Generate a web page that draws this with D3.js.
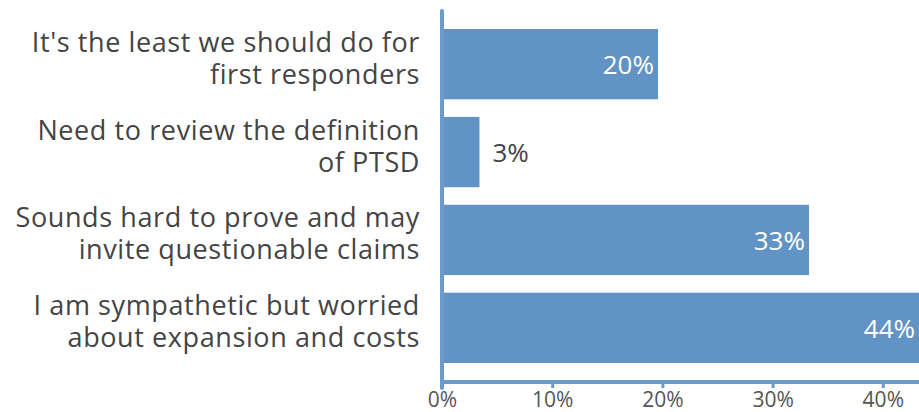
<!DOCTYPE html>
<html><head><meta charset="utf-8">
<script src="https://cdn.jsdelivr.net/npm/d3@7"></script>
<style>body{margin:0;background:#fff;} svg{display:block;}</style>
</head><body>
<svg id="c" width="919" height="412"></svg>
<script>
const categories = [
  ["It's the least we should do for", "first responders"],
  ["Need to review the definition", "of PTSD"],
  ["Sounds hard to prove and may", "invite questionable claims"],
  ["I am sympathetic but worried", "about expansion and costs"]
];
const values = [19.6, 3.4, 33.3, 44.4];
const valueLabels = ["20%", "3%", "33%", "44%"];
const ticks = [0, 10, 20, 30, 40];

const svg = d3.select("#c");
const font = "'Open Sans', sans-serif";
const x = d3.scaleLinear().domain([0, 10]).range([442, 552.2]);
const y = d3.scaleBand().domain(d3.range(categories.length)).range([20.2, 371.8]).paddingInner(0.2).paddingOuter(0.1);
const barColor = "#6193c5";

svg.selectAll("rect.bar").data(values).join("rect")
  .attr("class","bar")
  .attr("x", x(0)).attr("y", (d,i)=>y(i))
  .attr("width", d=>x(d)-x(0)).attr("height", y.bandwidth())
  .attr("fill", barColor);

// x axis
const xAxis = d3.axisBottom(x).tickValues(ticks).tickFormat(d=>d+"%").tickSize(6).tickSizeOuter(0);
const gx = svg.append("g").attr("transform","translate(0,382)").call(xAxis);
gx.select(".domain").attr("d", `M${x(0)},0H919`).attr("stroke", "#6a9bcc").attr("stroke-width", 4);
gx.selectAll(".tick line").attr("stroke", "#6a9bcc").attr("stroke-width", 3);
gx.selectAll(".tick text").attr("font-family", font).attr("font-size", 21).attr("fill", "#555")
  .attr("y", 25).attr("dy", null);

// y axis line
svg.append("line").attr("x1", x(0)).attr("x2", x(0)).attr("y1", 11).attr("y2", 388)
  .attr("stroke", "#6a9bcc").attr("stroke-width", 4).attr("stroke-linecap","round");

// category labels
const cl = svg.selectAll("text.cat").data(categories).join("text")
  .attr("class","cat").attr("text-anchor","end")
  .attr("font-family", font).attr("font-size", 27).attr("letter-spacing", 0.6).attr("fill", "#444");
cl.selectAll("tspan").data((d,i)=>d.map((t,j)=>({t,j,i}))).join("tspan")
  .attr("x", 420)
  .attr("y", d=> y(d.i)+y.bandwidth()/2 + (d.j===0 ? -12.5 : 19.5))
  .text(d=>d.t);

// value labels
svg.selectAll("text.val").data(values).join("text")
  .attr("class","val")
  .attr("font-family", font).attr("font-size", 26)
  .attr("y", (d,i)=>y(i)+y.bandwidth()/2 + 10)
  .each(function(d,i){
    const sel = d3.select(this);
    const inside = d > 10;
    let xe = x(d);
    if (xe > 919) xe = 919;
    if (inside) sel.attr("x", xe-4).attr("text-anchor","end").attr("fill","#fff");
    else sel.attr("x", xe+13).attr("text-anchor","start").attr("fill","#444");
  })
  .text((d,i)=>valueLabels[i]);
</script>
</body></html>
